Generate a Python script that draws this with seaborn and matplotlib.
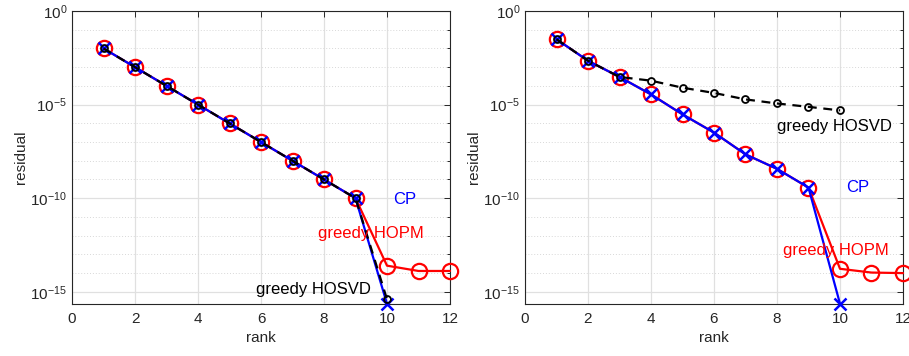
import numpy as np
import pandas as pd
import matplotlib
matplotlib.use("Agg")
import matplotlib.pyplot as plt
import matplotlib.ticker as mticker
import seaborn as sns

# ---- data ----
rank_l = [1, 2, 3, 4, 5, 6, 7, 8, 9, 10]
rank_l_hopm = [1, 2, 3, 4, 5, 6, 7, 8, 9, 10, 11, 12]
cp_left = [1e-2, 1e-3, 1e-4, 1e-5, 1e-6, 1e-7, 1e-8, 1e-9, 1e-10, 2.3e-16]
hopm_left = [1e-2, 1e-3, 1e-4, 1e-5, 1e-6, 1e-7, 1e-8, 1e-9, 1e-10, 2.5e-14, 1.3e-14, 1.3e-14]
hosvd_left = [1e-2, 1e-3, 1e-4, 1e-5, 1e-6, 1e-7, 1e-8, 1e-9, 1e-10, 4e-16]

rank_r = [1, 2, 3, 4, 5, 6, 7, 8, 9, 10]
rank_r_hopm = [1, 2, 3, 4, 5, 6, 7, 8, 9, 10, 11, 12]
cp_right = [3.1e-2, 2.2e-3, 3.0e-4, 3.5e-5, 3.0e-6, 3.2e-7, 2.2e-8, 3.7e-9, 3.7e-10, 2.3e-16]
hopm_right = [3.1e-2, 2.2e-3, 3.0e-4, 3.5e-5, 3.0e-6, 3.2e-7, 2.2e-8, 3.7e-9, 3.7e-10, 1.7e-14, 1.07e-14, 1.0e-14]
hosvd_right = [3.1e-2, 2.2e-3, 3.0e-4, 1.9e-4, 8.0e-5, 4.2e-5, 1.9e-5, 1.15e-5, 7.6e-6, 4.9e-6]

sns.set_theme(style="white")
plt.rcParams['font.family'] = ['Liberation Sans', 'DejaVu Sans']
plt.rcParams['mathtext.fontset'] = 'custom'
plt.rcParams['mathtext.rm'] = 'Liberation Sans'
plt.rcParams['mathtext.it'] = 'Liberation Sans'

fig = plt.figure(figsize=(9.09, 3.56), dpi=100)
W, H = 909, 356
ax1 = fig.add_axes([72 / W, 1 - 304 / H, 378 / W, 293 / H])
ax2 = fig.add_axes([525 / W, 1 - 304 / H, 378 / W, 293 / H])

txtcol = '#262626'
RED = '#ff0000'
BLUE = '#0000ff'


def draw(ax, rk, cp, rk_h, hopm, hosvd, labels):
    sns.lineplot(x=rk_h, y=hopm, ax=ax, color=RED, marker='o', markersize=11,
                 mfc='none', mec=RED, mew=1.6, lw=1.6, clip_on=False, zorder=3)
    sns.lineplot(x=rk, y=cp, ax=ax, color=BLUE, marker='x', markersize=9,
                 mec=BLUE, mfc=BLUE, mew=1.8, lw=1.6, clip_on=False, zorder=4)
    sns.lineplot(x=rk, y=hosvd, ax=ax, color='black', marker='o', markersize=5,
                 mfc='none', mec='black', mew=1.3, lw=1.6, linestyle=(0, (4, 3)),
                 clip_on=False, zorder=5)
    ax.set_yscale('log')
    ax.set_xlim(0, 12)
    ax.set_ylim(10 ** -15.65, 1)
    ax.set_xticks([0, 2, 4, 6, 8, 10, 12])
    ax.set_yticks([1e0, 1e-5, 1e-10, 1e-15])
    ax.set_yticklabels([r'$10^{0}$', r'$10^{-5}$', r'$10^{-10}$', r'$10^{-15}$'])
    ax.yaxis.set_minor_locator(mticker.FixedLocator([10.0 ** k for k in range(-16, 1)]))
    ax.yaxis.set_minor_formatter(mticker.NullFormatter())
    ax.grid(True, which='major', color='#e0e0e0', lw=0.9, ls='-')
    ax.grid(True, which='minor', axis='y', color='#d8d8d8', lw=0.7, ls=(0, (1, 2)))
    ax.set_axisbelow(True)
    ax.tick_params(which='both', direction='in', top=True, right=True, labelsize=11,
                   colors=txtcol, length=4, width=0.7)
    ax.tick_params(which='minor', length=2.5)
    ax.tick_params(axis='x', pad=6)
    for s in ax.spines.values():
        s.set_color('#262626')
        s.set_linewidth(0.8)
    ax.set_xlabel('rank', fontsize=11, color=txtcol, labelpad=3)
    ax.set_ylabel('residual', fontsize=11, color=txtcol, labelpad=2)
    for (tx, ty, s, c) in labels:
        ax.text(tx, ty, s, color=c, fontsize=12, ha='left', va='center', zorder=6)


draw(ax1, rank_l, cp_left, rank_l_hopm, hopm_left, hosvd_left,
     [(10.2, 10 ** -10.05, 'CP', BLUE),
      (7.8, 10 ** -11.9, 'greedy HOPM', RED),
      (5.85, 10 ** -14.9, 'greedy HOSVD', 'black')])
draw(ax2, rank_r, cp_right, rank_r_hopm, hopm_right, hosvd_right,
     [(10.2, 10 ** -9.45, 'CP', BLUE),
      (7.99, 10 ** -6.15, 'greedy HOSVD', 'black'),
      (8.19, 10 ** -12.8, 'greedy HOPM', RED)])

fig.savefig('out.png', dpi=100)
